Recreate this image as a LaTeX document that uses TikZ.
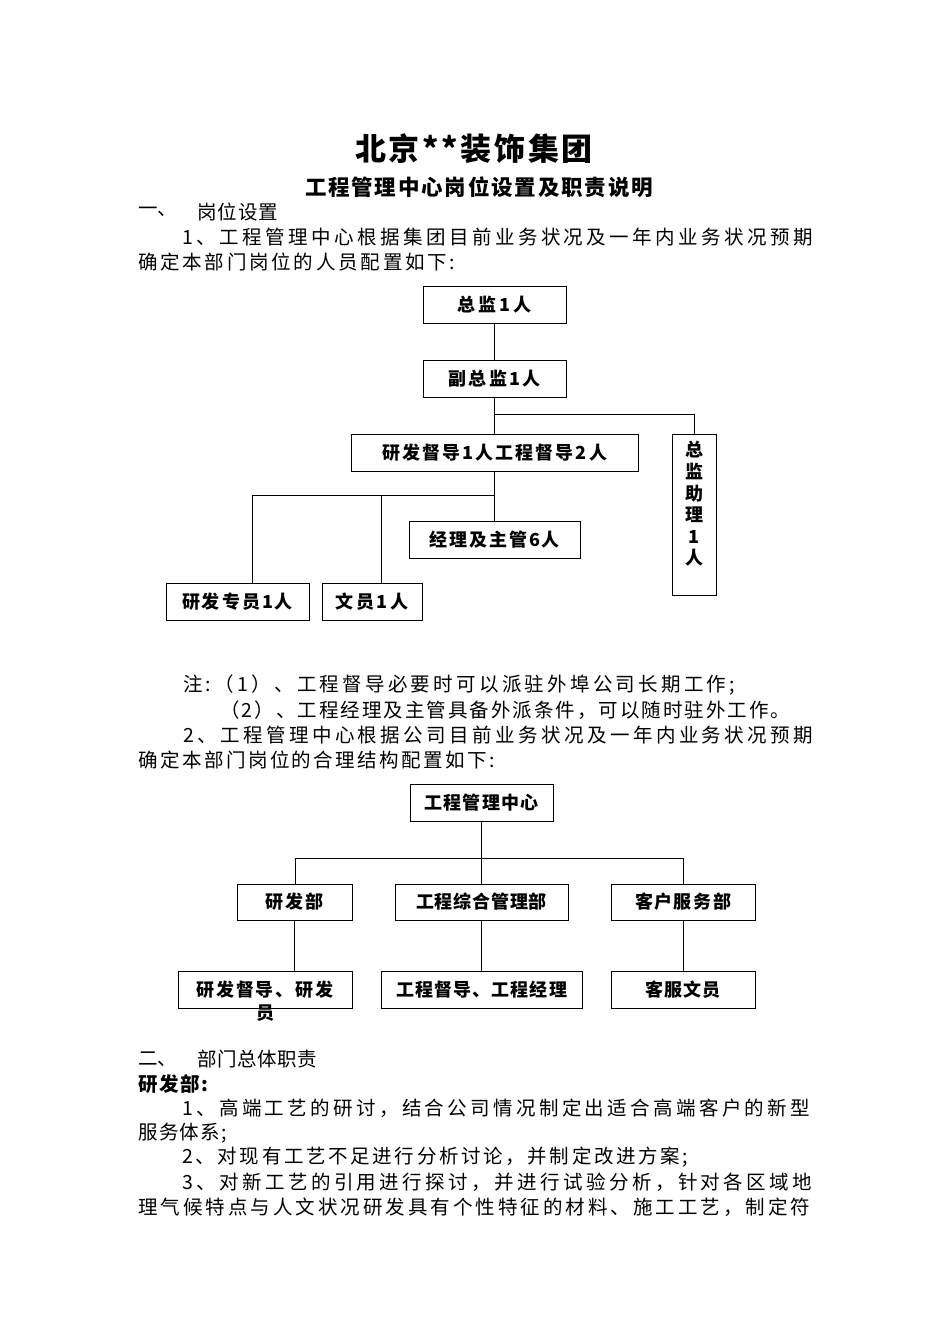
\documentclass[tikz,border=0pt]{standalone}
\usepackage{fontspec}
\setmainfont{Noto Sans CJK SC}
\newcommand\jline[2]{\makebox[#1][s]{\jlA#2\relax}}
\def\jlA#1{#1\jlB}
\def\jlB#1{\ifx\relax#1\else\hfil#1\expandafter\jlB\fi}
\begin{document}
\begin{tikzpicture}[x=1pt,y=-1pt,
  box/.style={draw=black,line width=0.9pt,inner sep=0pt,font=\fontsize{18}{21}\selectfont\bfseries},
  btext/.style={inner sep=0pt,font=\fontsize{18}{21.6}\selectfont\bfseries},
  body/.style={inner sep=0pt,anchor=west,font=\fontsize{19.5}{22}\selectfont},
  bodyb/.style={body,font=\fontsize{19.5}{22}\selectfont\bfseries},
  conn/.style={draw=black,line width=0.9pt}]
\useasboundingbox (0,0) rectangle (950,1344);
\fill[white] (0,0) rectangle (950,1344);
% titles
\node[inner sep=0pt,font=\fontsize{31}{36}\selectfont\bfseries] (title) at (474,149) {\jline{238pt}{北京**装饰集团}};
\node[inner sep=0pt,font=\fontsize{21.5}{26}\selectfont\bfseries] (subtitle) at (479,187) {\jline{348pt}{工程管理中心岗位设置及职责说明}};
% section 1
\node[body] (s1a) at (138,212) {一、};
\node[body] (s1b) at (197,212) {\jline{81pt}{岗位设置}};
\node[body] (l1) at (182,237) {\jline{631pt}{1、工程管理中心根据集团目前业务状况及一年内业务状况预期}};
\node[body] (l2) at (138,262) {\jline{317pt}{确定本部门岗位的人员配置如下:}};
% chart 1
\node[box,minimum width=143pt,minimum height=37pt] (zj) at (494.5,304.5) {\jline{74pt}{总监1人}};
\node[box,minimum width=143pt,minimum height=37pt] (fzj) at (494.5,378.5) {\jline{92pt}{副总监1人}};
\node[box,minimum width=287pt,minimum height=37pt] (yfdd) at (494.5,452.5) {\jline{225pt}{研发督导1人工程督导2人}};
\node[box,minimum width=44pt,minimum height=161pt] (zjzl) at (694,514.5) {};
\node[btext,align=center] (zjzltext) at (694,504) {总\\监\\助\\理\\1\\人};
\node[box,minimum width=171pt,minimum height=37pt] (jl) at (494.5,539.5) {\jline{131pt}{经理及主管6人}};
\node[box,minimum width=143pt,minimum height=37pt] (yfzy) at (237.5,601.5) {\jline{111pt}{研发专员1人}};
\node[box,minimum width=100pt,minimum height=37pt] (wy) at (372,601.5) {\jline{73pt}{文员1人}};
\draw[conn] (zj.south) -- (fzj.north);
\draw[conn] (fzj.south) -- (yfdd.north);
\coordinate (c1) at (494.5,414);
\draw[conn] (c1) -| (zjzl.north);
\draw[conn] (yfdd.south) -- (jl.north);
\coordinate (c2) at (494.5,495);
\coordinate (c2a) at (252,495);
\coordinate (c2b) at (381,495);
\draw[conn] (c2) -- (c2a) -- (c2a |- yfzy.north);
\draw[conn] (c2b) -- (c2b |- wy.north);
% notes
\node[body] (n1) at (183,685) {\jline{552pt}{注:（1）、工程督导必要时可以派驻外埠公司长期工作;}};
\node[body] (n2) at (220,710) {\jline{570pt}{（2）、工程经理及主管具备外派条件，可以随时驻外工作。}};
\node[body] (l3) at (183,735) {\jline{630pt}{2、工程管理中心根据公司目前业务状况及一年内业务状况预期}};
\node[body] (l4) at (138,760) {\jline{357pt}{确定本部门岗位的合理结构配置如下:}};
% chart 2
\node[box,minimum width=143pt,minimum height=37pt] (gc) at (481.5,802.5) {\jline{115pt}{工程管理中心}};
\node[box,minimum width=115pt,minimum height=36pt] (yfb) at (294.5,902) {\jline{58pt}{研发部}};
\node[box,minimum width=173pt,minimum height=36pt] (gczh) at (481.5,902) {\jline{131pt}{工程综合管理部}};
\node[box,minimum width=144pt,minimum height=36pt] (khfw) at (683,902) {\jline{96pt}{客户服务部}};
\node[box,minimum width=174pt,minimum height=37pt] (yfdd2) at (265,989.5) {\jline{137pt}{研发督导、研发}};
\node[btext] (yfdd2b) at (265,1013) {员};
\node[box,minimum width=201pt,minimum height=37pt] (gcdd) at (481.5,989.5) {\jline{171pt}{工程督导、工程经理}};
\node[box,minimum width=144pt,minimum height=37pt] (kfwy) at (683,989.5) {\jline{75pt}{客服文员}};
\coordinate (d1) at (481.5,858);
\coordinate (d1a) at (295,858);
\coordinate (d1b) at (683,858);
\draw[conn] (gc.south) -- (d1);
\draw[conn] (d1a |- yfb.north) -- (d1a) -- (d1b) -- (khfw.north);
\draw[conn] (d1) -- (gczh.north);
\draw[conn] (yfb.south) -- (yfb.south |- yfdd2.north);
\draw[conn] (gczh.south) -- (gcdd.north);
\draw[conn] (khfw.south) -- (kfwy.north);
% section 2
\node[body] (s2a) at (138,1059) {二、};
\node[body] (s2b) at (197,1059) {\jline{120pt}{部门总体职责}};
\node[bodyb] (yfbt) at (138,1084) {\jline{70pt}{研发部:}};
\node[body] (p1) at (182,1108) {\jline{628pt}{1、高端工艺的研讨，结合公司情况制定出适合高端客户的新型}};
\node[body] (p1b) at (138,1133) {\jline{89pt}{服务体系;}};
\node[body] (p2) at (182,1157) {\jline{506pt}{2、对现有工艺不足进行分析讨论，并制定改进方案;}};
\node[body] (p3) at (182,1182) {\jline{630pt}{3、对新工艺的引用进行探讨，并进行试验分析，针对各区域地}};
\node[body] (p4) at (138,1207) {\jline{672pt}{理气候特点与人文状况研发具有个性特征的材料、施工工艺，制定符}};
\end{tikzpicture}
\end{document}
